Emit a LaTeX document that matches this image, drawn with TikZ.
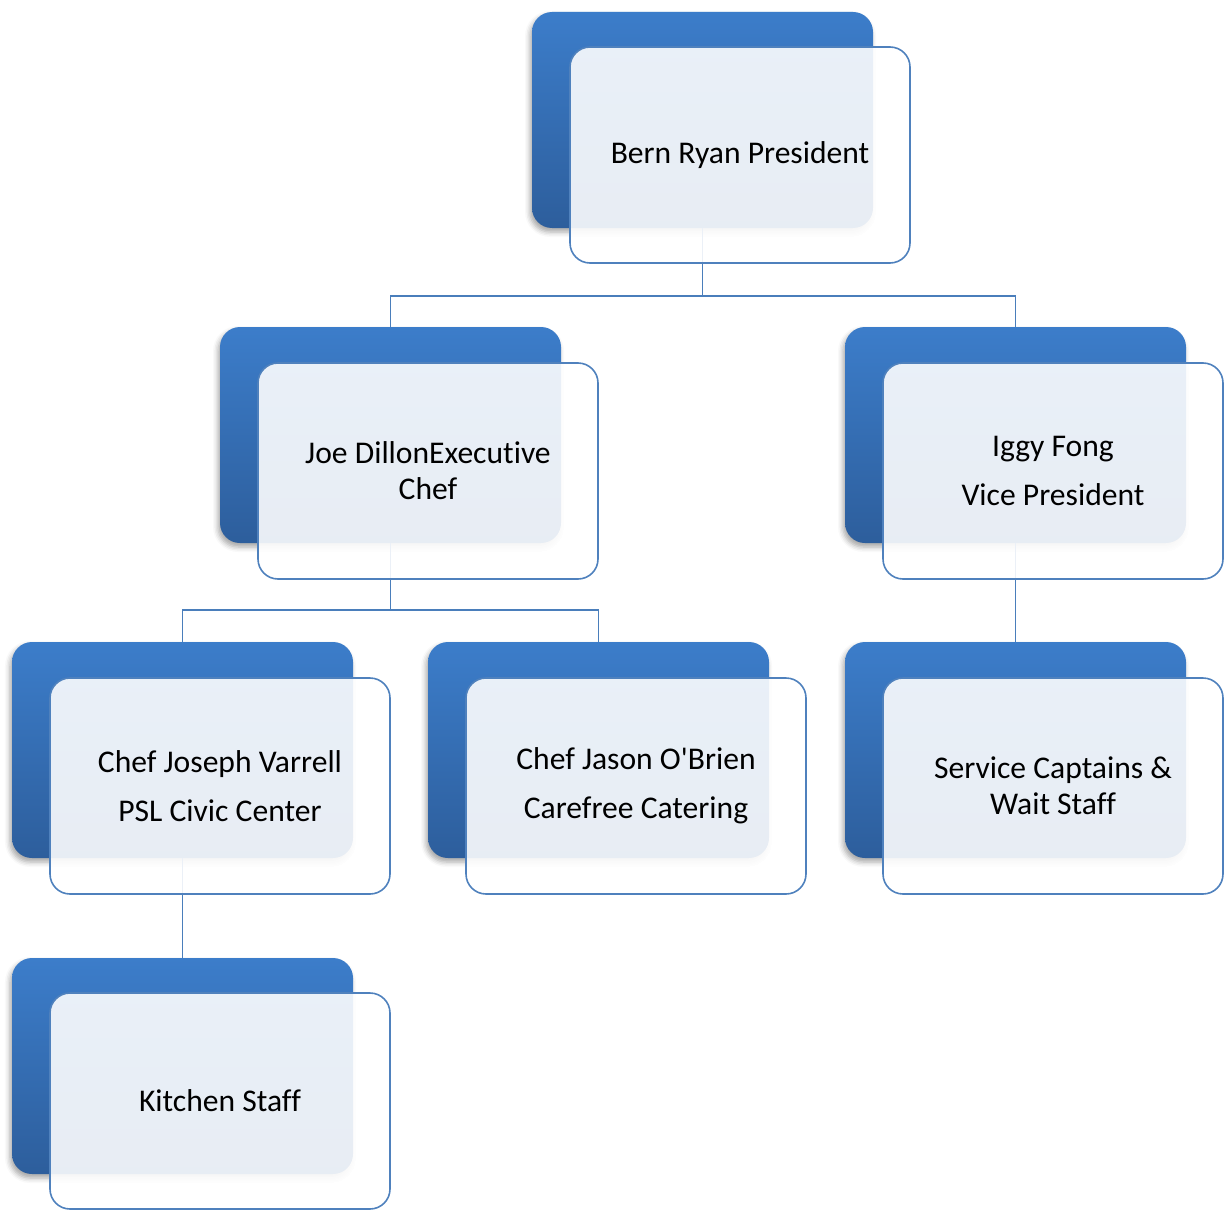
\documentclass[tikz,border=0pt]{standalone}
\usepackage{fontspec}
\newfontfamily\cardfont[Ligatures={NoCommon}]{Carlito}
\usetikzlibrary{shadows.blur}
\definecolor{bt}{HTML}{3C7DCA}
\definecolor{bb}{HTML}{2D5E9C}
\definecolor{bd}{HTML}{4F81BD}
\definecolor{cn}{HTML}{4A7EBB}
\tikzset{
  back/.style={rounded corners=20pt, minimum width=341pt, minimum height=216pt,
    inner sep=0pt, outer sep=0pt, anchor=north west, top color=bt, bottom color=bb, draw=none,
    blur shadow={shadow xshift=-2pt, shadow yshift=-4pt, shadow opacity=35, shadow blur radius=5pt}},
  front/.style={rounded corners=20pt, minimum width=340pt, minimum height=216pt,
    inner sep=0pt, outer sep=0pt, anchor=north west, fill=white, fill opacity=0.89, text opacity=1,
    draw=bd, line width=1.6pt, align=center,
    font=\cardfont\fontsize{31.6}{36}\selectfont},
  conn/.style={draw=cn, line width=1.8pt}
}
\begin{document}
\begin{tikzpicture}[x=1pt,y=-1pt]
\useasboundingbox (0,0) rectangle (1225,1209);
% back plates
\node[back] (b1) at (532,12) {};
\node[back] (b2) at (220,327) {};
\node[back] (b3) at (845,327) {};
\node[back] (b4) at (12,642) {};
\node[back] (b5) at (428,642) {};
\node[back] (b6) at (845,642) {};
\node[back] (b7) at (12,958) {};
% connectors
\draw[conn] (b1.south) -- ++(0,68) coordinate (j1);
\draw[conn] (b2.north) |- (j1) -| (b3.north);
\draw[conn] (b2.south) -- ++(0,67) coordinate (j2);
\draw[conn] (b4.north) |- (j2) -| (b5.north);
\draw[conn] (b3.south) -- (b6.north);
\draw[conn] (b4.south) -- (b7.north);
% front cards
\node[front] (f1) at (570,47) {Bern Ryan President};
\node[front] (f2) at (258,363) {Joe DillonExecutive\\Chef};
\node[front] (f3) at (883,363) {Iggy Fong\\[13pt]Vice President};
\node[front] (f4) at (50,678) {Chef Joseph Varrell\\[13pt]PSL Civic Center};
\node[front] (f5) at (466,678) {Chef Jason O'Brien\\[13pt]Carefree Catering};
\node[front] (f6) at (883,678) {Service Captains \&\\Wait Staff};
\node[front] (f7) at (50,993) {Kitchen Staff};
\end{tikzpicture}
\end{document}
